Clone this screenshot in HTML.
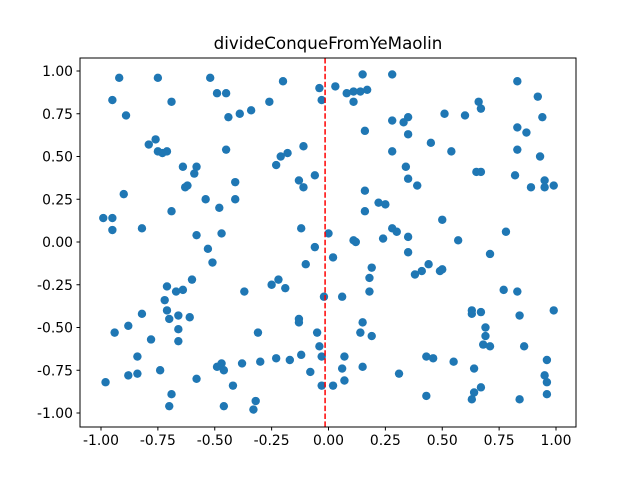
<!DOCTYPE html>
<html><head><meta charset="utf-8"><style>
body{margin:0;background:#fff}
svg{display:block;font-family:"DejaVu Sans","Liberation Sans",sans-serif}
</style></head><body>
<svg id="chart" width="640" height="480">
<rect x="0" y="0" width="640" height="480" fill="#fff"/>
<text x="328" y="49" text-anchor="middle" font-size="16.7" fill="#000">divideConqueFromYeMaolin</text>
<g id="plot"></g>
</svg>
<script>
const xs=[-0.99,-0.95,-0.95,-0.94,-0.98,-0.95,-0.92,-0.89,-0.90,-0.88,-0.88,-0.84,-0.84,-0.82,-0.82,-0.79,-0.78,-0.76,-0.75,-0.75,-0.73,-0.71,-0.74,-0.72,-0.71,-0.71,-0.70,-0.69,-0.69,-0.69,-0.70,-0.67,-0.64,-0.66,-0.66,-0.66,-0.64,-0.63,-0.62,-0.61,-0.60,-0.58,-0.59,-0.58,-0.58,-0.54,-0.53,-0.52,-0.51,-0.49,-0.49,-0.48,-0.47,-0.47,-0.46,-0.46,-0.45,-0.45,-0.44,-0.42,-0.41,-0.41,-0.39,-0.38,-0.37,-0.34,-0.33,-0.32,-0.31,-0.30,-0.26,-0.25,-0.23,-0.22,-0.23,-0.21,-0.20,-0.19,-0.18,-0.17,-0.13,-0.11,-0.12,-0.10,-0.13,-0.13,-0.12,-0.11,-0.08,-0.06,-0.06,-0.05,-0.04,-0.04,-0.03,-0.03,-0.03,-0.02,0.00,0.02,0.03,0.02,0.06,0.06,0.07,0.07,0.08,0.11,0.11,0.11,0.12,0.14,0.14,0.15,0.15,0.15,0.17,0.16,0.16,0.16,0.18,0.18,0.19,0.19,0.22,0.24,0.25,0.28,0.28,0.28,0.28,0.30,0.31,0.33,0.34,0.35,0.35,0.35,0.35,0.35,0.39,0.38,0.41,0.43,0.43,0.44,0.45,0.46,0.49,0.50,0.51,0.50,0.54,0.55,0.57,0.60,0.63,0.63,0.64,0.64,0.63,0.65,0.67,0.66,0.67,0.67,0.69,0.69,0.68,0.67,0.71,0.71,0.77,0.78,0.82,0.83,0.83,0.83,0.83,0.84,0.84,0.87,0.86,0.89,0.92,0.93,0.94,0.95,0.95,0.95,0.96,0.96,0.96,0.99,0.99];
const ys=[0.14,0.14,0.07,-0.53,-0.82,0.83,0.96,0.74,0.28,-0.49,-0.78,-0.77,-0.67,0.08,-0.42,0.57,-0.57,0.60,0.96,0.53,0.52,0.53,-0.75,-0.34,-0.26,-0.40,-0.45,0.82,0.18,-0.89,-0.96,-0.29,-0.28,-0.43,-0.51,-0.58,0.44,0.32,0.33,-0.44,-0.22,0.44,0.40,0.04,-0.80,0.25,-0.04,0.96,-0.12,-0.73,0.87,0.20,0.05,-0.71,-0.75,-0.96,0.87,0.54,0.73,-0.84,0.35,0.25,0.75,-0.71,-0.29,0.77,-0.98,-0.93,-0.53,-0.70,0.82,-0.25,0.45,-0.22,-0.68,0.50,0.94,-0.27,0.52,-0.69,0.36,0.56,0.08,-0.13,-0.45,-0.47,-0.66,0.32,-0.76,-0.03,0.39,-0.53,-0.61,0.90,0.83,-0.67,-0.84,-0.32,0.05,-0.09,0.91,-0.84,-0.74,-0.32,-0.81,-0.67,0.87,0.88,0.82,0.01,0.00,-0.53,0.88,-0.47,-0.73,0.98,0.89,0.30,0.18,0.65,-0.29,-0.21,-0.15,-0.55,0.23,0.02,0.22,0.08,0.53,0.98,0.71,0.06,-0.77,0.70,0.44,0.37,0.73,0.63,-0.06,0.03,0.33,-0.19,-0.17,-0.67,-0.90,-0.13,0.58,-0.68,-0.17,-0.16,0.75,0.13,0.53,-0.70,0.01,0.74,-0.40,-0.42,-0.74,-0.88,-0.92,0.41,0.41,0.82,0.78,-0.41,-0.50,-0.55,-0.60,-0.85,-0.07,-0.61,-0.28,0.06,0.39,0.94,0.67,0.54,-0.29,-0.43,-0.92,0.64,-0.61,0.32,0.85,0.50,0.73,0.36,0.32,-0.78,-0.69,-0.82,-0.89,0.33,-0.40];
const xTicks=[-1.00,-0.75,-0.50,-0.25,0.00,0.25,0.50,0.75,1.00];
const yTicks=[-1.00,-0.75,-0.50,-0.25,0.00,0.25,0.50,0.75,1.00];
const splitX=[-0.015];
const NS="http://www.w3.org/2000/svg";
const g=document.getElementById('plot');
const L=80,R=576,T=58,B=427;
function sx(v){return 328.5+227.5*v;}
function sy(v){return 242-171*v;}
function mk(t,a){const e=document.createElementNS(NS,t);for(const k in a)e.setAttribute(k,a[k]);g.appendChild(e);return e;}
xs.forEach((x,i)=>{
 const c=mk('circle',{cx:sx(x),cy:sy(ys[i]),r:4.2,fill:'#1f77b4'});
 
 
});
splitX.forEach(v=>{
 const l=mk('line',{x1:sx(v),x2:sx(v),y1:T,y2:B,stroke:'#ff0000','stroke-width':1.5,'stroke-dasharray':'5.5,2.4'});
 
 
});
const fr=mk('rect',{x:L,y:T,width:R-L,height:B-T,fill:'none',stroke:'#000','stroke-width':1});


xTicks.forEach(v=>{
 const t=mk('line',{x1:sx(v),x2:sx(v),y1:B,y2:B+3.5,stroke:'#000'});
 
 
 const s=mk('text',{x:sx(v),y:B+18,'text-anchor':'middle','font-size':13.9,fill:'#000'});
 s.textContent=v.toFixed(2);
 
 
});
yTicks.forEach(v=>{
 const t=mk('line',{x1:L-3.5,x2:L,y1:sy(v),y2:sy(v),stroke:'#000'});
 
 
 const s=mk('text',{x:L-7,y:sy(v)+5,'text-anchor':'end','font-size':13.9,fill:'#000'});
 s.textContent=v.toFixed(2);
 
 
});
</script>
</body></html>
